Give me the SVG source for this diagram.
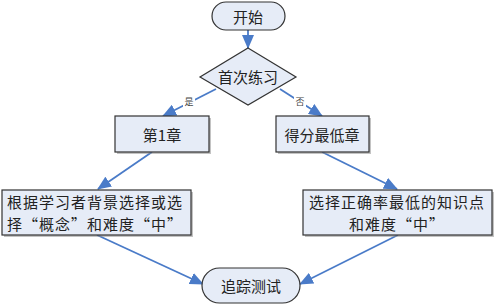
<svg xmlns="http://www.w3.org/2000/svg" width="496" height="306" viewBox="0 0 496 306">
<defs>
<style>
.n{fill:#E6ECF7;stroke:#333;stroke-width:1.2}
.sh{fill:#888;opacity:0.5}
.t{font-family:"Noto Sans CJK SC","Liberation Serif",sans-serif;font-size:15px;fill:#222;text-anchor:middle;dominant-baseline:central}
.tl{text-anchor:start}
.lb{font-family:"Noto Sans CJK SC",sans-serif;font-size:9px;fill:#444;text-anchor:middle;dominant-baseline:central}
.c{stroke:#4A7BC8;stroke-width:1.8;fill:none;marker-end:url(#ah)}
</style>
<marker id="ah" markerUnits="userSpaceOnUse" markerWidth="14" markerHeight="12" refX="13" refY="6" orient="auto">
<path d="M0,0 L14,6 L0,12 Z" fill="#4A7BC8"/>
</marker>
</defs>
<rect width="496" height="306" fill="#fff"/>
<g id="connectors">
<line class="c" x1="248" y1="30" x2="248" y2="48"/>
<line class="c" x1="216" y1="89" x2="163" y2="116"/>
<line class="c" x1="280" y1="89" x2="322" y2="116"/>
<line class="c" x1="152" y1="152" x2="98" y2="189"/>
<line class="c" x1="322" y1="152" x2="397" y2="189"/>
<line class="c" x1="97" y1="235" x2="203" y2="284"/>
<line class="c" x1="398" y1="235" x2="300" y2="284"/>
<rect x="183" y="95" width="12" height="12" fill="#fff"/>
<text class="lb" x="189" y="101">是</text>
<rect x="294" y="95" width="12" height="12" fill="#fff"/>
<text class="lb" x="300" y="101">否</text>
</g>
<g id="start">
<rect class="n" x="212" y="2" width="73" height="28" rx="14"/>
<text class="t" x="248" y="16">开始</text>
</g>
<g id="decision">
<polygon class="n" points="248,48 296,77 248,105 200,77"/>
<text class="t" x="248" y="76">首次练习</text>
</g>
<g id="ch1">
<rect class="sh" x="117" y="118" width="94" height="36"/>
<rect class="n" x="115" y="116" width="94" height="36"/>
<text class="t" x="162" y="134" font-size="14">第1章</text>
</g>
<g id="lowest">
<rect class="sh" x="278" y="118" width="93" height="36"/>
<rect class="n" x="276" y="116" width="93" height="36"/>
<text class="t" x="322" y="134">得分最低章</text>
</g>
<g id="bg">
<rect class="sh" x="4" y="192" width="189" height="45"/>
<rect class="n" x="2" y="190" width="189" height="45"/>
<text class="t tl" x="7" y="201" letter-spacing="1">根据学习者背景选择或选</text>
<text class="t tl" x="7" y="223" letter-spacing="1">择“概念”和难度“中”</text>
</g>
<g id="acc">
<rect class="sh" x="305" y="192" width="189" height="45"/>
<rect class="n" x="303" y="190" width="189" height="45"/>
<text class="t" x="397" y="201" letter-spacing="1">选择正确率最低的知识点</text>
<text class="t" x="397" y="223" letter-spacing="1">和难度“中”</text>
</g>
<g id="end">
<rect class="n" x="202" y="268" width="98" height="35" rx="17.5"/>
<text class="t" x="251" y="285">追踪测试</text>
</g>
</svg>
